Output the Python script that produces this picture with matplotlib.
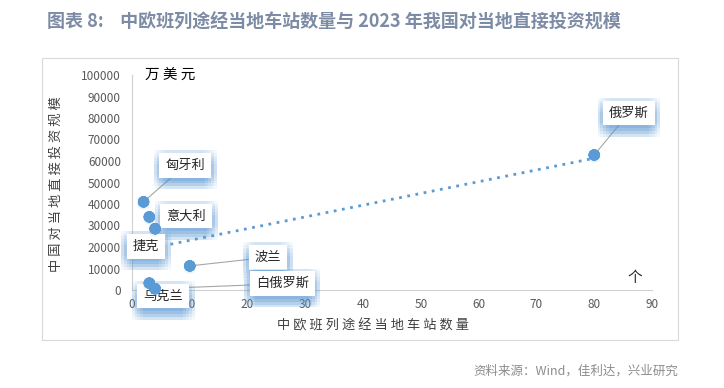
import numpy as np
import matplotlib
matplotlib.use("Agg")
import matplotlib.pyplot as plt
import matplotlib.patheffects as pe
from matplotlib.patches import Rectangle

plt.rcParams['font.family'] = ['Noto Sans CJK SC', 'DejaVu Sans']

# data
countries = ['匈牙利', '意大利', '捷克', '波兰', '白俄罗斯', '乌克兰', '俄罗斯']
stations = [2, 3, 4, 10, 4, 3, 80]
invest = [41000, 34000, 28500, 11200, 600, 3200, 62800]

# label positions (data coords) and whether a leader line is drawn
label_pos = [(9.2, 58000), (9.4, 34400), (2.4, 20400), (23.5, 15200),
             (26.0, 2900), (5.4, -2800), (86.0, 82300)]
leader = [True, False, True, True, True, False, True]

blue = '#5b9bd5'
W, H = 724, 388


def spaced(s):
    return ' '.join(s)


# soft blue glow made of shifted shadow copies
glow = [pe.withSimplePatchShadow(offset=(dx, dy), shadow_rgbFace=blue, alpha=0.055)
        for dx in (-4, -2, 0, 2, 4) for dy in (-8, -6, -4, -2, 0, 2)]
dot_glow = [pe.withSimplePatchShadow(offset=(dx, dy), shadow_rgbFace=blue, alpha=0.08)
            for dx in (-1, 1) for dy in (-2, 0)]

fig = plt.figure(figsize=(W / 100, H / 100), dpi=100)

# chart frame
fig.patches.append(Rectangle((42 / W, 1 - 340 / H), (678 - 42) / W, (340 - 58) / H,
                             transform=fig.transFigure, fill=False,
                             edgecolor='#d9d9d9', linewidth=0.8))

fig.text(47 / W, 1 - 22 / H, '图表 8:    中欧班列途经当地车站数量与 2023 年我国对当地直接投资规模',
         fontsize=13, fontweight='bold', color='#7d8ca5', va='center', ha='left')
fig.text(678 / W, 1 - 371 / H, '资料来源：Wind，佳利达，兴业研究',
         fontsize=9, color='#8c8c8c', va='center', ha='right')

ax = fig.add_axes([132 / W, 1 - 290 / H, (652 - 132) / W, (290 - 75) / H])
ax.set_xlim(0, 90)
ax.set_ylim(0, 100000)
ax.set_xticks(np.arange(0, 91, 10))
ax.set_yticks(np.arange(0, 100001, 10000))
ax.tick_params(length=0, labelsize=8.5, labelcolor='#595959', pad=8)
ax.tick_params(axis='x', pad=6)
for s in ['top', 'right']:
    ax.spines[s].set_visible(False)
for s in ['left', 'bottom']:
    ax.spines[s].set_color('#d0d0d0')

# linear trend line
k, b = np.polyfit(stations, invest, 1)
tx = np.array([1, max(stations)])
ax.plot(tx, k * tx + b, linestyle=(0, (1, 2)), color=blue, linewidth=2, zorder=2)

ax.scatter(stations, invest, s=50, color=blue, zorder=5, clip_on=False,
           path_effects=dot_glow + [pe.Normal()])

for name, x, y, (lx, ly), ld in zip(countries, stations, invest, label_pos, leader):
    t = ax.annotate(name, xy=(x, y), xytext=(lx, ly), textcoords='data',
                    fontsize=9.5, color='#262626', ha='center', va='center',
                    bbox=dict(boxstyle='square,pad=0.45', facecolor='white', edgecolor='none'),
                    arrowprops=dict(arrowstyle='-', color='#a6a6a6', lw=0.8, shrinkA=0, shrinkB=3)
                    if ld else None,
                    zorder=4, annotation_clip=False)
    t.get_bbox_patch().set_path_effects(glow + [pe.Normal()])

ax.text(2.2, 100000, spaced('万美元'), fontsize=10.5, color='#000000', va='center', ha='left')
ax.text(87, 5500, '个', fontsize=10.5, color='#262626', va='center', ha='center')

# axis titles
fig.text(373 / W, 1 - 326 / H, spaced('中欧班列途经当地车站数量'), fontsize=9.5,
         color='#404040', ha='center', va='center')
fig.text(56 / W, 1 - 184 / H, spaced('中国对当地直接投资规模'), fontsize=9.5,
         color='#404040', ha='center', va='center', rotation=90)

fig.savefig('out.png', dpi=100)
